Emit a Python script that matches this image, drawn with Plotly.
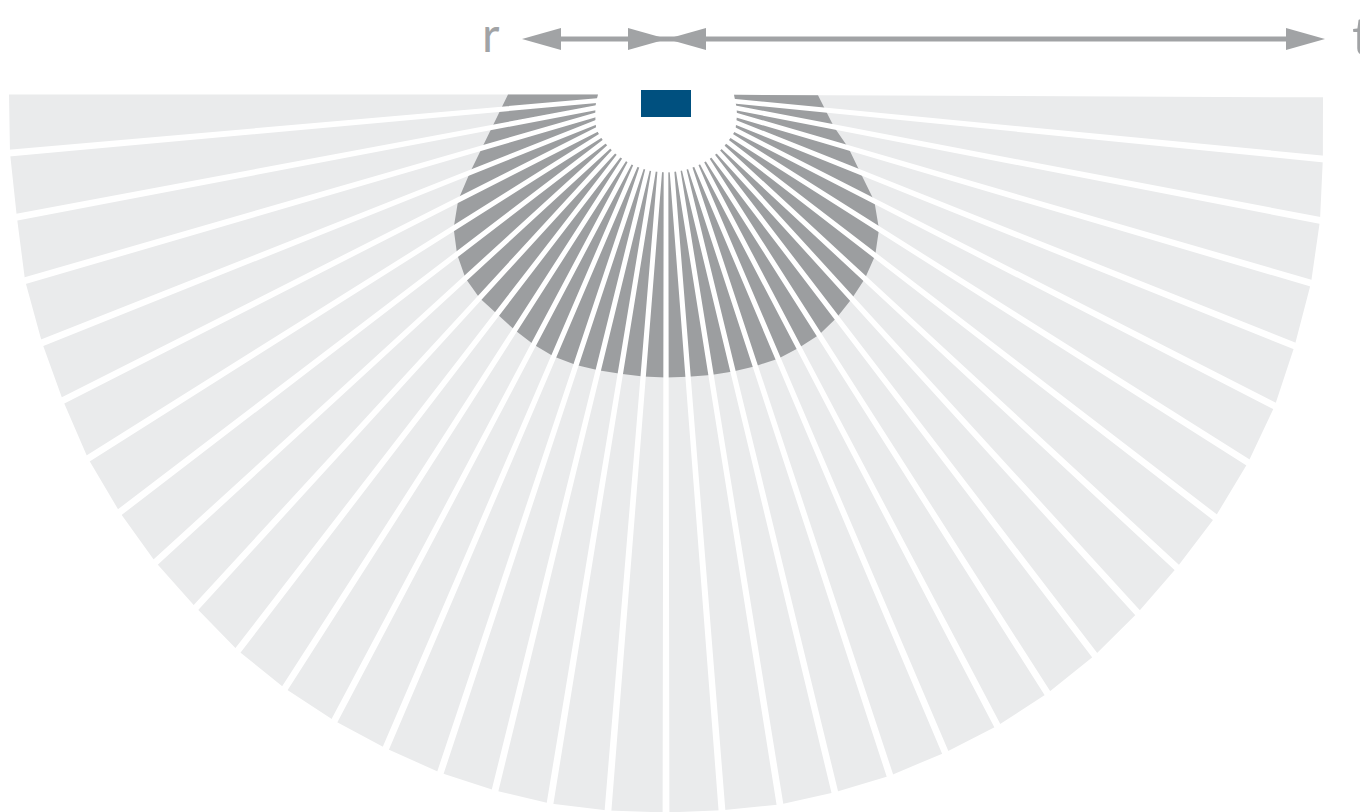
import numpy as np
import plotly.graph_objects as go

# Ray bearings in degrees from straight down (negative = left), first and last are the flat top edges
ray_angles = [-90.0, -84.9, -79.3, -73.8, -68.3, -63.1, -57.8, -52.6, -47.5, -42.5, -37.6, -32.7, -27.9,
              -23.2, -18.4, -13.8, -9.29, -4.63, 0.0, 4.47, 9.12, 13.6, 18.2, 23.0, 27.7, 32.5, 37.4, 42.3,
              47.2, 52.4, 57.7, 62.9, 68.2, 73.7, 79.1, 84.4, 89.75]
# Reach of the far pattern along each ray
outer_reach = [657, 658.6, 660.6, 667.4, 671.5, 676.2, 683, 687.6, 692.2, 695.8, 701.7, 705.7, 708.6, 711.4,
               714.7, 716.7, 718.4, 718.3, 718, 718, 719, 718, 717, 714.7, 713, 710, 706, 700.8, 696.3, 693,
               688.6, 683.8, 677, 672, 666, 660, 657]
# Reach of the near pattern along each ray
near_reach = [158, 166, 177, 192, 211, 233, 251, 263, 272, 276, 277, 280, 283, 285, 285, 284, 283, 283, 283,
              283, 284, 285, 286, 287, 286, 285, 281, 276, 271, 264, 252, 234, 209, 190, 171, 160, 152]
# Inner edge of the fan along each ray
hub_reach = [68, 70, 72, 74, 76, 78, 78, 78, 78, 78, 78, 78, 78, 78, 78, 78, 78, 78, 78,
             78, 78, 78, 78, 78, 78, 78, 78, 78, 78, 78, 78, 78, 76, 74, 72, 70, 68]

# Dimension arrows, measured from the source at 0
r_extent = -144
t_extent = 659
crossing = 1
head_len = 39
head_half = 11
shaft_y = -55.5

# Source box
box_x = [-25, 25]
box_y = [-4.5, 22.5]

GREY_LIGHT = "#eaebec"
GREY_DARK = "#9c9ea0"
GREY_ARROW = "#a1a3a5"
BLUE = "#00507f"

a = np.radians(ray_angles)
sx, cy = np.sin(a), np.cos(a)


def band(reach_out, reach_in):
    ro, ri = np.array(reach_out, float), np.array(reach_in, float)
    x = np.concatenate([ro * sx, (ri * sx)[::-1]])
    y = np.concatenate([ro * cy, (ri * cy)[::-1]])
    return x, y


fig = go.Figure()
lx, ly = band(outer_reach, hub_reach)
fig.add_trace(go.Scatter(x=lx, y=ly, mode="lines", fill="toself", fillcolor=GREY_LIGHT, line=dict(width=0),
                         hoverinfo="skip", showlegend=False))
dx, dy = band(near_reach, hub_reach)
fig.add_trace(go.Scatter(x=dx, y=dy, mode="lines", fill="toself", fillcolor=GREY_DARK, line=dict(width=0),
                         hoverinfo="skip", showlegend=False))

# White separators, slightly widening outward
ray_x, ray_y = [], []
for s, c, r in zip(sx[1:-1], cy[1:-1], outer_reach[1:-1]):
    stations = [(0, 2.2), (280, 2.7), (r + 4, 3.4)]
    left = [(s * q - c * h, c * q + s * h) for q, h in stations]
    right = [(s * q + c * h, c * q - s * h) for q, h in stations][::-1]
    for px, py in left + right:
        ray_x.append(px)
        ray_y.append(py)
    ray_x.append(None)
    ray_y.append(None)
fig.add_trace(go.Scatter(x=ray_x, y=ray_y, mode="lines", fill="toself", fillcolor="white", line=dict(width=0),
                         hoverinfo="skip", showlegend=False))

tri = lambda tip, base: (f"M{tip},{shaft_y} L{base},{shaft_y - head_half} L{base},{shaft_y + head_half} Z")
shapes = [
    dict(type="rect", x0=box_x[0], x1=box_x[1], y0=box_y[0], y1=box_y[1], fillcolor=BLUE, line=dict(width=0)),
    dict(type="line", x0=r_extent + 20, x1=t_extent - 20, y0=shaft_y, y1=shaft_y, line=dict(color=GREY_ARROW, width=5)),
]
for tip, base in [(r_extent, r_extent + head_len), (crossing, crossing - head_len),
                  (crossing, crossing + head_len), (t_extent, t_extent - head_len)]:
    shapes.append(dict(type="path", path=tri(tip, base), fillcolor=GREY_ARROW, line=dict(width=0)))

annots = [
    dict(x=-186, y=shaft_y - 6, text="r", showarrow=False, xanchor="left", yanchor="middle",
         font=dict(family="Lato", size=48, color=GREY_ARROW, weight=400)),
    dict(x=684, y=shaft_y - 4, text="t", showarrow=False, xanchor="left", yanchor="middle",
         font=dict(family="Lato", size=52, color=GREY_ARROW, weight=400)),
]

fig.update_layout(
    width=1360, height=812, margin=dict(l=0, r=0, t=0, b=0), paper_bgcolor="white", plot_bgcolor="white",
    xaxis=dict(range=[-666, 694], visible=False, fixedrange=True),
    yaxis=dict(range=[717.5, -94.5], visible=False, fixedrange=True),
    shapes=shapes, annotations=annots, showlegend=False,
)
fig.write_html("out.html", post_script="document.body.style.margin='0';", config=dict(displayModeBar=False))
